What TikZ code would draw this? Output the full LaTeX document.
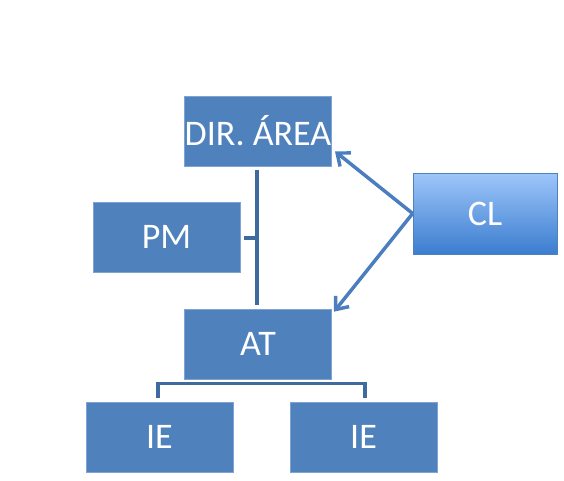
\documentclass[tikz,border=0pt]{standalone}
\usepackage{fontspec}
\setmainfont{Carlito}
\usepackage{xcolor}
\definecolor{boxfill}{HTML}{4F81BD}
\definecolor{boxedge}{HTML}{7FA3D3}
\definecolor{linkcol}{HTML}{3F6A9F}
\definecolor{arrowcol}{HTML}{4A7EBF}
\definecolor{cltop}{HTML}{9DC6FA}
\definecolor{clbot}{HTML}{3C7DCF}
\usepackage{tikz}
\usetikzlibrary{arrows.meta, positioning, calc}

\begin{document}
\begin{tikzpicture}[
  x=0.75pt, y=0.75pt,
  font=\fontsize{27}{30}\selectfont,
  every node/.style={align=center},
  orgbox/.style={draw=boxedge, fill=boxfill, text=white, line width=0.5pt,
    minimum width=110.5pt, minimum height=52.5pt, inner sep=0pt},
  link/.style={linkcol, line width=2.3pt},
  pointer/.style={arrowcol, line width=2.6pt,
    -{Straight Barb[length=8pt, width=13pt, line width=2.6pt]}}
]
  \useasboundingbox (0,0) rectangle (564,480);
  % boxes
  \node[orgbox] (dir) at (258,349) {DIR. ÁREA};
  \node[orgbox] (pm) at (166.5,243) {PM};
  \node[orgbox] (at) at (258,136) {AT};
  \node[orgbox] (ieL) at (159.5,43) {IE};
  \node[orgbox] (ieR) at (363.5,43) {IE};
  \node[orgbox, draw=boxfill, top color=cltop, bottom color=clbot,
        minimum width=108pt, minimum height=60.75pt] (cl) at (485,266.5) {CL};
  % lines
  \draw[link] ($(dir.south)+(-1,-4)$) -- ($(at.north)+(-1,4)$);
  \draw[link] ($(pm.east)+(3,-1)$) -- ($(pm.east -| dir.south)+(-1,-1)$);
  \draw[link] ($(ieL.north)+(-1.5,4)$) |- ($(at.south)+(0,-4)$)
    -| ($(ieR.north)+(1.5,4)$);
  % arrows
  \draw[pointer] (cl.west) -- ($(dir.south east)+(3,15)$);
  \draw[pointer] (cl.west) -- ($(at.north east)+(2,-3)$);
\end{tikzpicture}
\end{document}
